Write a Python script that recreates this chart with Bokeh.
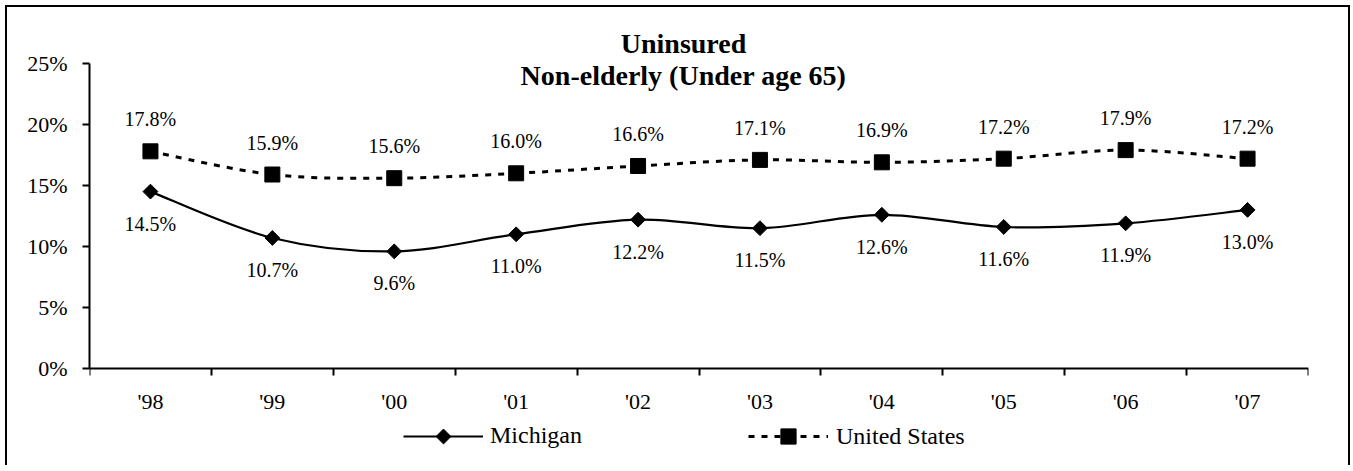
import numpy as np
from bokeh.plotting import figure
from bokeh.models import (Range1d, FixedTicker, PrintfTickFormatter, ColumnDataSource,
                          LabelSet, Label, Legend, LegendItem)
from bokeh.core.properties import value
from bokeh.embed import file_html
from bokeh.resources import INLINE

# ---------------- data ----------------
years = ["'98", "'99", "'00", "'01", "'02", "'03", "'04", "'05", "'06", "'07"]
michigan = [14.5, 10.7, 9.6, 11.0, 12.2, 11.5, 12.6, 11.6, 11.9, 13.0]
united_states = [17.8, 15.9, 15.6, 16.0, 16.6, 17.1, 16.9, 17.2, 17.9, 17.2]
y_ticks = [0, 5, 10, 15, 20, 25]
series_names = ["Michigan", "United States"]
title_lines = ["Uninsured", "Non-elderly (Under age 65)"]

FONT = "Liberation Serif"
n = len(years)
xs = list(range(n))

# ---------------- layout (canvas pixels) ----------------
W, H = 1345, 460
LEFT, RIGHT = 82, 44           # frame left / right borders
TOP, BOTTOM = 18, 2            # frame extends over title and legend area
Y0_PX, Y25_PX = 361, 56        # canvas rows of 0% and 25%
unit = (Y0_PX - Y25_PX) / 25.0  # pixels per percentage point
y_end = 25 + (Y25_PX - TOP) / unit
y_start = -((H - BOTTOM) - Y0_PX) / unit
x_unit = (W - LEFT - RIGHT) / n


def px_to_y(py):
    return (Y0_PX - py) / unit


def px_to_x(px):
    return (px - LEFT) / x_unit - 0.5


def smooth_segments(vals):
    """Catmull-Rom style cubic Bezier segments (Excel-like smoothing)."""
    px = [xs[0]] + xs + [xs[-1]]
    py = [vals[0]] + list(vals) + [vals[-1]]
    d = dict(x0=[], y0=[], x1=[], y1=[], cx0=[], cy0=[], cx1=[], cy1=[])
    for i in range(n - 1):
        j = i + 1
        d["x0"].append(px[j]); d["y0"].append(py[j])
        d["x1"].append(px[j + 1]); d["y1"].append(py[j + 1])
        d["cx0"].append(px[j] + (px[j + 1] - px[j - 1]) / 6.0)
        d["cy0"].append(py[j] + (py[j + 1] - py[j - 1]) / 6.0)
        d["cx1"].append(px[j + 1] - (px[j + 2] - px[j]) / 6.0)
        d["cy1"].append(py[j + 1] - (py[j + 2] - py[j]) / 6.0)
    return ColumnDataSource(d)


p = figure(width=W, height=H, output_backend="svg", toolbar_location=None,
           x_range=Range1d(-0.5, n - 0.5), y_range=Range1d(y_start, y_end),
           min_border_left=LEFT, min_border_right=RIGHT, min_border_top=TOP,
           min_border_bottom=BOTTOM)
p.outline_line_color = None
p.grid.visible = False
p.background_fill_color = "white"
p.border_fill_color = "white"
p.styles = {"margin-left": "5px", "margin-top": "5px",
            "border-top": "2px solid black", "border-left": "2px solid black",
            "border-right": "2px solid black"}

# y axis (frame left edge, limited to 0..25)
p.yaxis.ticker = FixedTicker(ticks=y_ticks, minor_ticks=[])
p.yaxis.bounds = (y_ticks[0], y_ticks[-1])
p.yaxis.formatter = PrintfTickFormatter(format="%d%%")
p.yaxis.major_tick_out = 7
p.yaxis.major_tick_in = 0
p.yaxis.minor_tick_out = 0
p.yaxis.major_label_standoff = 15
p.yaxis.axis_line_width = 2
p.yaxis.major_tick_line_width = 2

# x axis drawn at 0%
p.xaxis.fixed_location = 0
p.xaxis.ticker = FixedTicker(ticks=xs, minor_ticks=[i - 0.5 for i in range(n + 1)])
p.xaxis.major_label_overrides = {i: years[i] for i in xs}
p.xaxis.major_tick_out = 0
p.xaxis.major_tick_in = 0
p.xaxis.minor_tick_out = 7
p.xaxis.minor_tick_in = 0
p.xaxis.minor_tick_line_width = 2
p.xaxis.minor_tick_line_color = "black"
p.xaxis.axis_line_width = 2
p.xaxis.major_label_standoff = 13

for ax in (p.xaxis[0], p.yaxis[0]):
    ax.major_label_text_font = FONT
    ax.major_label_text_font_size = "22px"
    ax.major_label_text_color = "black"
    ax.axis_line_color = "black"
    ax.major_tick_line_color = "black"

# series
src_mi = ColumnDataSource(dict(x=xs, y=michigan, t=[f"{v:.1f}%" for v in michigan]))
src_us = ColumnDataSource(dict(x=xs, y=united_states, t=[f"{v:.1f}%" for v in united_states]))

us_line = p.bezier(x0="x0", y0="y0", x1="x1", y1="y1", cx0="cx0", cy0="cy0", cx1="cx1", cy1="cy1",
                   source=smooth_segments(united_states), line_color="black", line_width=3,
                   line_dash="6 7")
mi_line = p.bezier(x0="x0", y0="y0", x1="x1", y1="y1", cx0="cx0", cy0="cy0", cx1="cx1", cy1="cy1",
                   source=smooth_segments(michigan), line_color="black", line_width=2.2)
us_pts = p.scatter("x", "y", source=src_us, marker="square", size=15, color="black")
mi_pts = p.scatter("x", "y", source=src_mi, marker="square", angle=np.pi / 4, size=10.5, color="black")

p.add_layout(LabelSet(x="x", y="y", text="t", source=src_us, text_align="center",
                      text_baseline="alphabetic", y_offset=25, text_font=value(FONT),
                      text_font_size=value("20px"), text_color="black"))
p.add_layout(LabelSet(x="x", y="y", text="t", source=src_mi, text_align="center",
                      text_baseline="alphabetic", y_offset=-39, text_font=value(FONT),
                      text_font_size=value("20px"), text_color="black"))

# title (two bold lines)
title_cx = px_to_x(676)
for txt, base_px in zip(title_lines, [36, 68]):
    p.add_layout(Label(x=title_cx, y=px_to_y(base_px), text=txt, text_align="center",
                       text_baseline="alphabetic", text_font=FONT, text_font_style="bold",
                       text_font_size="28px", text_color="black"))

# legends (inside the extended frame, below the axis)
LEG_CY = 429  # canvas row of legend centre
common = dict(orientation="horizontal", glyph_width=80, padding=0, margin=0, spacing=0,
              border_line_color=None, background_fill_alpha=0, label_text_font=FONT,
              label_text_font_size="24px", label_text_color="black")
gh1, gh2 = 26, 38
leg1 = Legend(items=[LegendItem(label=value(series_names[0]), renderers=[mi_line])],
              location=(396 - LEFT, (H - BOTTOM) - (LEG_CY + gh1 / 2)),
              glyph_height=gh1, label_height=gh1, label_standoff=7, **common)
leg2 = Legend(items=[LegendItem(label=value(series_names[1]), renderers=[us_line, us_pts])],
              location=(741 - LEFT, (H - BOTTOM) - (LEG_CY + gh2 / 2)),
              glyph_height=gh2, label_height=gh2, label_standoff=8, **common)
p.add_layout(leg1, "center")
p.add_layout(leg2, "center")
# diamond marker of the Michigan legend entry
p.scatter(x=[px_to_x(396 + 40)], y=[px_to_y(LEG_CY)], marker="square", angle=np.pi / 4,
          size=10.5, color="black")

open("out.html", "w").write(file_html(p, INLINE))
